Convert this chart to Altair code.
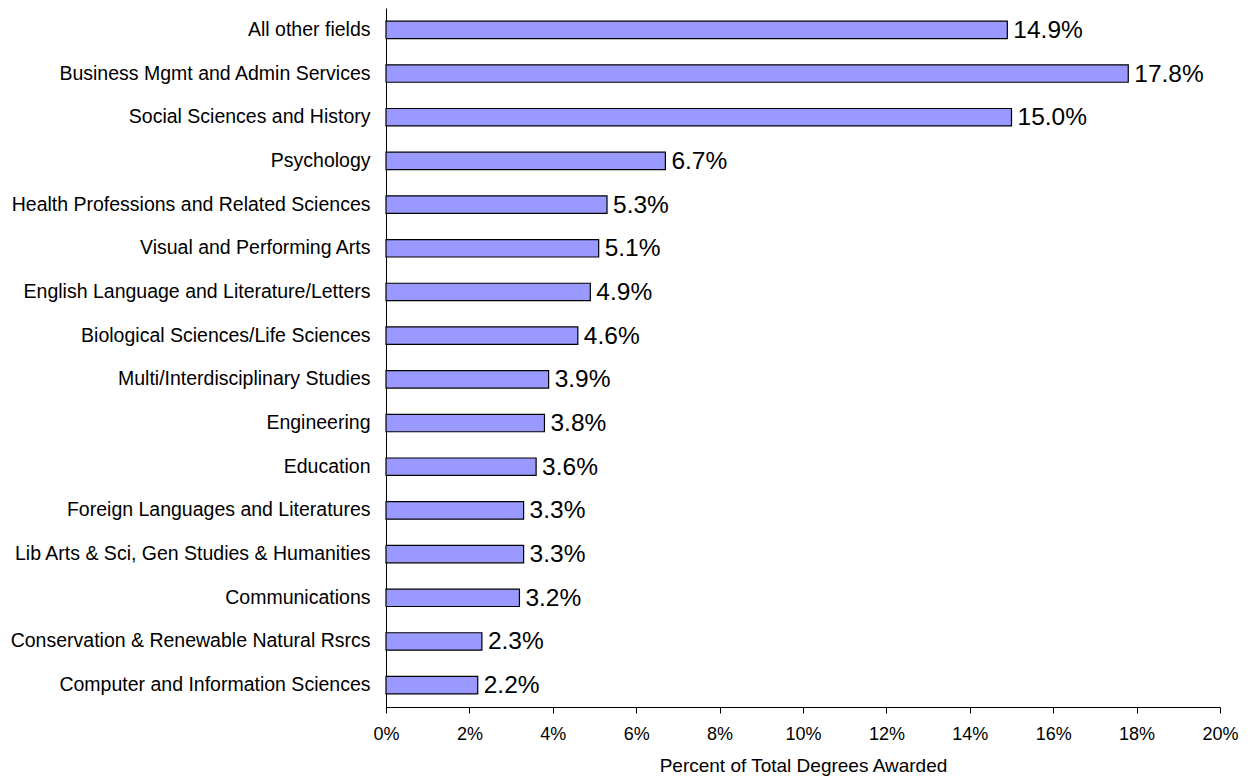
import altair as alt
import pandas as pd

fields = [
    "All other fields",
    "Business Mgmt and Admin Services",
    "Social Sciences and History",
    "Psychology",
    "Health Professions and Related Sciences",
    "Visual and Performing Arts",
    "English Language and Literature/Letters",
    "Biological Sciences/Life Sciences",
    "Multi/Interdisciplinary Studies",
    "Engineering",
    "Education",
    "Foreign Languages and Literatures",
    "Lib Arts & Sci, Gen Studies & Humanities",
    "Communications",
    "Conservation & Renewable Natural Rsrcs",
    "Computer and Information Sciences",
]
shares = [0.149, 0.178, 0.150, 0.067, 0.053, 0.051, 0.049, 0.046,
          0.039, 0.038, 0.036, 0.033, 0.033, 0.032, 0.023, 0.022]
tick_values = [0.00, 0.02, 0.04, 0.06, 0.08, 0.10, 0.12, 0.14, 0.16, 0.18, 0.20]

df = pd.DataFrame({"field": fields, "share": shares})

FONT = "Liberation Sans"

y_enc = alt.Y(
    "field:N", sort=None, title=None,
    scale=alt.Scale(paddingInner=0.6, paddingOuter=0.3),
    axis=alt.Axis(ticks=False, domainColor="black", domainWidth=1,
                  labelFont=FONT, labelFontSize=19.5, labelColor="black",
                  labelPadding=16, labelLimit=600),
)
x_enc = alt.X(
    "share:Q", title="Percent of Total Degrees Awarded",
    scale=alt.Scale(domain=[0, 0.2], nice=False),
    axis=alt.Axis(format=".0%", values=tick_values, labelFlush=False,
                  grid=False, domainColor="black", tickColor="black",
                  tickSize=6, labelFont=FONT, labelFontSize=18,
                  labelColor="black", labelPadding=12,
                  titleFont=FONT, titleFontSize=19, titleFontWeight="normal",
                  titleColor="black", titlePadding=13),
)

bars = alt.Chart(df).mark_bar(
    fill="#9999FF", stroke="black", strokeWidth=1.2
).encode(x=x_enc, y=y_enc)

labels = alt.Chart(df).mark_text(
    align="left", baseline="middle", dx=6, dy=1,
    font=FONT, fontSize=24.5, color="black"
).encode(
    x="share:Q", y=alt.Y("field:N", sort=None),
    text=alt.Text("share:Q", format=".1%"),
)

chart = (bars + labels).properties(
    width=834, height=699,
    autosize=alt.AutoSizeParams(type="none"),
    padding={"left": 378, "top": 0, "right": 20, "bottom": 70},
).configure_view(stroke=None)

chart.save("out.html", embed_options={"renderer": "svg", "actions": False})
